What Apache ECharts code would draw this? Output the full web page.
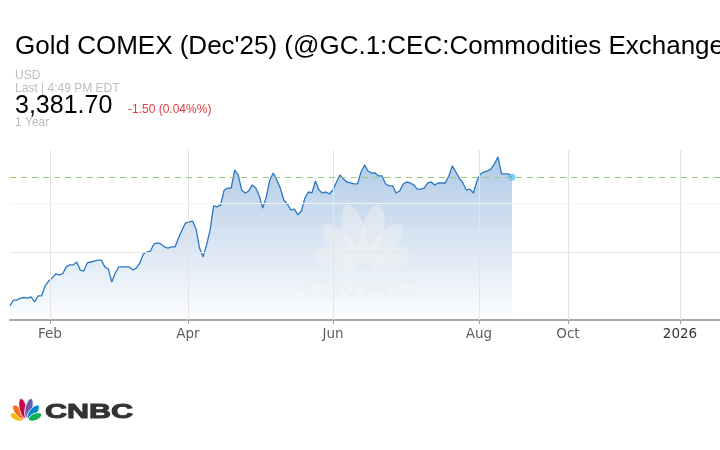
<!DOCTYPE html>
<html><head><meta charset="utf-8">
<script src="https://cdn.jsdelivr.net/npm/echarts@6/dist/echarts.min.js"></script>
<style>html,body{margin:0;padding:0;background:#fff}#c{width:720px;height:450px}</style>
</head><body><div id="c"></div>
<script>
// Daily settle values (one per trading session, mid-Jan to mid-Aug 2025)
const prices = [
 2725,2755,2755,2765,2768,2765,2771,2745,2776,2776,
 2827,2852,2867,2888,2883,2888,2924,2934,2934,2949,
 2908,2903,2944,2949,2954,2959,2959,2924,2913,2847,
 2893,2924,2924,2924,2924,2908,2918,2944,2990,3000,
 3005,3041,3046,3041,3026,3020,3026,3026,3071,3112,
 3148,3153,3158,3117,3020,2975,3036,3112,3235,3230,
 3240,3316,3326,3326,3418,3393,3316,3301,3311,3342,
 3326,3286,3224,3281,3367,3403,3367,3326,3265,3245,
 3214,3219,3189,3209,3275,3306,3301,3362,3316,3301,
 3306,3296,3316,3357,3393,3372,3357,3352,3347,3347,
 3408,3444,3413,3403,3403,3388,3388,3347,3337,3337,
 3301,3311,3347,3357,3352,3342,3321,3321,3326,3352,
 3357,3342,3352,3352,3352,3388,3439,3408,3377,3352,
 3316,3321,3301,3362,3398,3408,3413,3423,3449,3485,
 3398,3398,3398,3381.7
];
const monthLabels = ['Feb', 'Apr', 'Jun', 'Aug', 'Oct', '2026'];
const monthSlots  = [11.39, 50.70, 92.01, 133.60, 158.95, 190.86];
const axisEndSlot = 202.25;
const prevClose = 3383.2;
const lastPrice = 3381.70;
const gridLevels = [3000, 3250];
const yMin = 2653.2, yMax = 3520.2;

const seriesData = prices.map((p, i) => [i, p]);
const lastPoint = [[prices.length - 1, lastPrice]];

function labelFor(v) {
  let best = 0, bd = Infinity;
  monthSlots.forEach((s, i) => { const d = Math.abs(s - v); if (d < bd) { bd = d; best = i; } });
  const t = monthLabels[best];
  return /^\d+$/.test(t) ? '{y|' + t + '}' : t;
}

function feathers(x, y, s, colors, z, stroke) {
  const ang = [-66, -39, -13, 13, 39, 66];
  const len = [14, 17, 20, 20, 17, 14];
  const wid = [7.0, 7.4, 7.4, 7.4, 7.4, 7.0];
  const gap = 3;
  return {
    type: 'group', x: x, y: y, scaleX: s, scaleY: s, silent: true,
    children: ang.map((a, i) => {
      const r = a * Math.PI / 180, d = gap + len[i] / 2;
      return {
        type: 'ellipse', z: z,
        x: d * Math.sin(r), y: -d * Math.cos(r), rotation: -r,
        shape: { cx: 0, cy: 0, rx: wid[i] / 2, ry: len[i] / 2 },
        style: stroke ? { fill: colors[i], stroke: '#ffffff', lineWidth: 0.8 } : { fill: colors[i] }
      };
    })
  };
}

const FONT = '"Liberation Sans", Arial, Helvetica, sans-serif';
const grey = '#bdbdbd';

const chart = echarts.init(document.getElementById('c'), null, { renderer: 'canvas' });
chart.setOption({
  animation: false,
  backgroundColor: '#ffffff',
  grid: { left: 10, right: 0, top: 150, bottom: 130, containLabel: false },
  xAxis: {
    type: 'value', min: 0, max: axisEndSlot,
    splitLine: { show: false },
    axisLine: { show: true, lineStyle: { color: '#a8a8a8', width: 2 } },
    axisTick: { show: true, customValues: monthSlots, length: 4, lineStyle: { color: '#a0a0a0', width: 1 } },
    axisLabel: {
      show: true, customValues: monthSlots, formatter: labelFor, margin: 7,
      color: '#5e5e5e', fontSize: 13.5, fontFamily: '"DejaVu Sans", sans-serif',
      rich: { y: { color: '#333333', fontSize: 13.5, fontFamily: '"DejaVu Sans", sans-serif' } }
    }
  },
  yAxis: {
    type: 'value', min: yMin, max: yMax, show: false, splitLine: { show: false }
  },
  series: [
    {
      type: 'line', data: seriesData, showSymbol: false, z: 2,
      lineStyle: { color: '#2a78c2', width: 1.3 },
      itemStyle: { color: '#2a78c2' },
      areaStyle: {
        origin: 'start',
        color: new echarts.graphic.LinearGradient(0, 0, 0, 1, [
          { offset: 0, color: 'rgba(70,130,196,0.6)' },
          { offset: 1, color: 'rgba(70,130,196,0.02)' }
        ])
      },
      markLine: {
        silent: true, symbol: ['none', 'none'], label: { show: false },
        data: [
          ...monthSlots.map(v => ({ xAxis: v, lineStyle: { color: '#e4e4e4', width: 1, type: 'solid' } })),
          { yAxis: gridLevels[0], lineStyle: { color: '#e6e6e6', width: 1, type: 'solid' } },
          { yAxis: gridLevels[1], lineStyle: { color: '#f4f4f4', width: 1, type: 'solid' } },
          { yAxis: prevClose, lineStyle: { color: '#96c97a', width: 1, type: [6, 5] } }
        ]
      }
    },
    {
      type: 'scatter', data: lastPoint, symbol: 'circle', symbolSize: 7, z: 5,
      itemStyle: { color: '#5cc3f2' }, silent: true
    }
  ],
  graphic: [
    { type: 'text', x: 15, y: 47, z: 10, style: { text: "Gold COMEX (Dec'25) (@GC.1:CEC:Commodities Exchange", font: 'normal 26px ' + FONT, fill: '#000', textVerticalAlign: 'middle' } },
    { type: 'text', x: 15, y: 76, z: 10, style: { text: 'USD', font: 'normal 12px ' + FONT, fill: grey, textVerticalAlign: 'middle' } },
    { type: 'text', x: 15, y: 89, z: 10, style: { text: 'Last | 4:49 PM EDT', font: 'normal 12px ' + FONT, fill: grey, textVerticalAlign: 'middle' } },
    { type: 'text', x: 15, y: 106, z: 10, style: { text: '3,381.70', font: 'normal 25px ' + FONT, fill: '#000', textVerticalAlign: 'middle' } },
    { type: 'text', x: 128, y: 110, z: 10, style: { text: '-1.50 (0.04%%)', font: 'normal 12px ' + FONT, fill: '#e4393c', textVerticalAlign: 'middle' } },
    { type: 'text', x: 15, y: 123, z: 10, style: { text: '1 Year', font: 'normal 12px ' + FONT, fill: grey, textVerticalAlign: 'middle' } },
    // faint watermark
    feathers(363, 272, 3.0, Array(6).fill('rgba(242,242,242,0.45)'), 3, false),
    { type: 'text', x: 300, y: 290, z: 3, scaleX: 1.5, silent: true, style: { text: 'CNBC', font: 'bold 28px ' + FONT, fill: 'rgba(238,238,238,0.55)', textVerticalAlign: 'middle' } },
    // logo
    feathers(26, 421, 1.0, ['#fcb711', '#f37021', '#cc004c', '#6460aa', '#0089d0', '#0db14b'], 10, true),
    { type: 'text', x: 45, y: 412, z: 10, scaleX: 1.45, silent: true, style: { text: 'CNBC', font: 'bold 21px ' + FONT, fill: '#333333', stroke: '#333333', lineWidth: 1, textVerticalAlign: 'middle' } }
  ]
});
</script></body></html>
